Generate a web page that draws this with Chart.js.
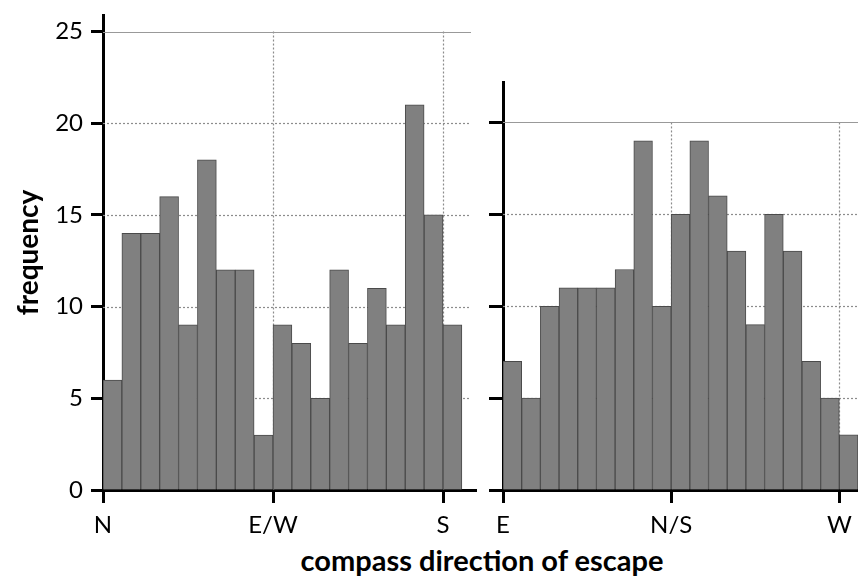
<!DOCTYPE html>
<html>
<head>
<meta charset="utf-8">
<script src="https://cdn.jsdelivr.net/npm/chart.js@4.4.0/dist/chart.umd.min.js"></script>
<style>
  body { margin: 0; background: #fff; width: 858px; height: 577px; overflow: hidden; position: relative; }
  canvas { position: absolute; top: 0; }
  #left { left: 0; }
  #right { left: 484px; }
  #xtitle {
    position: absolute; left: 232px; width: 500px; top: 543px;
    text-align: center; font: bold 29px Lato, sans-serif; line-height: 34px; color: #000;
  }
</style>
</head>
<body>
<canvas id="left" width="477" height="540"></canvas>
<canvas id="right" width="374" height="540"></canvas>
<div id="xtitle">compass direction of escape</div>
<script>
// bins are 10 degrees wide, value = start of the bin
const binWidth = 10;
const leftBins = [0, 10, 20, 30, 40, 50, 60, 70, 80, 90, 100, 110, 120, 130, 140, 150, 160, 170, 180];
const leftCounts = [6, 14, 14, 16, 9, 18, 12, 12, 3, 9, 8, 5, 12, 8, 11, 9, 21, 15, 9];
const leftTickValues = [0, 90, 180];
const leftTickLabels = ['N', 'E/W', 'S'];
const leftYTicks = [0, 5, 10, 15, 20, 25];

const rightBins = [0, 10, 20, 30, 40, 50, 60, 70, 80, 90, 100, 110, 120, 130, 140, 150, 160, 170, 180];
const rightCounts = [7, 5, 10, 11, 11, 11, 12, 19, 10, 15, 19, 16, 13, 9, 15, 13, 7, 5, 3];
const rightTickValues = [0, 90, 180];
const rightTickLabels = ['E', 'N/S', 'W'];
const rightYTicks = [0, 5, 10, 15, 20];

const tickFont = { family: 'Lato, sans-serif', size: 24 };

// dotted grid behind the bars, solid line at the top tick
const panelGrid = {
  id: 'panelGrid',
  beforeDatasetsDraw(chart, args, opts) {
    const { ctx, chartArea, scales: { x, y } } = chart;
    const yTicks = opts.yTicks;
    const top = y.getPixelForValue(yTicks[yTicks.length - 1]);
    const right = chartArea.right - opts.inset;
    ctx.save();
    ctx.strokeStyle = '#8c8c8c';
    ctx.lineWidth = 1.2;
    ctx.setLineDash([2, 2]);
    yTicks.slice(1, -1).forEach(v => {
      const py = Math.round(y.getPixelForValue(v)) + 0.5;
      ctx.beginPath();
      ctx.moveTo(chartArea.left, py);
      ctx.lineTo(right, py);
      ctx.stroke();
    });
    opts.xTicks.slice(1).forEach(v => {
      const px = Math.round(x.getPixelForValue(v)) + 0.5;
      ctx.beginPath();
      ctx.moveTo(px, top);
      ctx.lineTo(px, chartArea.bottom);
      ctx.stroke();
    });
    ctx.setLineDash([]);
    ctx.strokeStyle = '#999999';
    ctx.beginPath();
    ctx.moveTo(chartArea.left, Math.round(top) + 0.5);
    ctx.lineTo(right, Math.round(top) + 0.5);
    ctx.stroke();
    ctx.restore();
  }
};

function makePanel(id, bins, counts, tickValues, tickLabels, yTicks, cfg) {
  const points = bins.map((b, i) => ({ x: b + binWidth / 2, y: counts[i] }));
  return new Chart(document.getElementById(id), {
    type: 'bar',
    data: {
      datasets: [{
        data: points,
        backgroundColor: '#808080',
        borderColor: '#4a4a4a',
        borderWidth: 1,
        barPercentage: 1,
        categoryPercentage: 1
      }]
    },
    options: {
      responsive: false,
      animation: false,
      layout: { padding: { top: cfg.top, left: 0, right: 0, bottom: 0 } },
      plugins: {
        legend: { display: false },
        tooltip: { enabled: false },
        panelGrid: { yTicks: yTicks, xTicks: tickValues, inset: cfg.inset }
      },
      scales: {
        x: {
          type: 'linear',
          offset: false,
          min: 0,
          max: cfg.xMax,
          afterBuildTicks: s => { s.ticks = tickValues.map(v => ({ value: v })); },
          afterFit: s => { s.height = 50; s.paddingLeft = 0; s.paddingRight = 0; },
          ticks: {
            color: '#000',
            font: tickFont,
            padding: 8,
            maxRotation: 0,
            autoSkip: false,
            callback: v => tickLabels[tickValues.indexOf(v)]
          },
          grid: { offset: false, drawOnChartArea: false, drawTicks: true, tickLength: 13, tickWidth: 3, tickColor: '#000' },
          border: { color: '#000', width: 3 }
        },
        y: {
          min: 0,
          max: cfg.yMax,
          afterBuildTicks: s => { s.ticks = yTicks.map(v => ({ value: v })); },
          afterFit: s => { s.width = cfg.yWidth; s.paddingTop = 0; s.paddingBottom = 0; },
          ticks: { display: cfg.labels, color: '#000', font: tickFont, padding: 8 },
          grid: { drawOnChartArea: false, drawTicks: true, tickLength: cfg.tickLen, tickWidth: 3, tickColor: '#000' },
          border: { color: '#000', width: 3 },
          title: {
            display: cfg.labels,
            text: 'frequency',
            color: '#000',
            font: { family: 'Lato, sans-serif', size: 28, weight: 'bold' },
            padding: { top: 12, bottom: 0 }
          }
        }
      }
    },
    plugins: [panelGrid]
  });
}

makePanel('left', leftBins, leftCounts, leftTickValues, leftTickLabels, leftYTicks,
  { top: 15, xMax: 198, yMax: 25.9, yWidth: 103, labels: true, tickLen: 12, inset: 6 });
makePanel('right', rightBins, rightCounts, rightTickValues, rightTickLabels, rightYTicks,
  { top: 82, xMax: 190, yMax: 22.2, yWidth: 19, labels: false, tickLen: 14, inset: 0 });
</script>
</body>
</html>
